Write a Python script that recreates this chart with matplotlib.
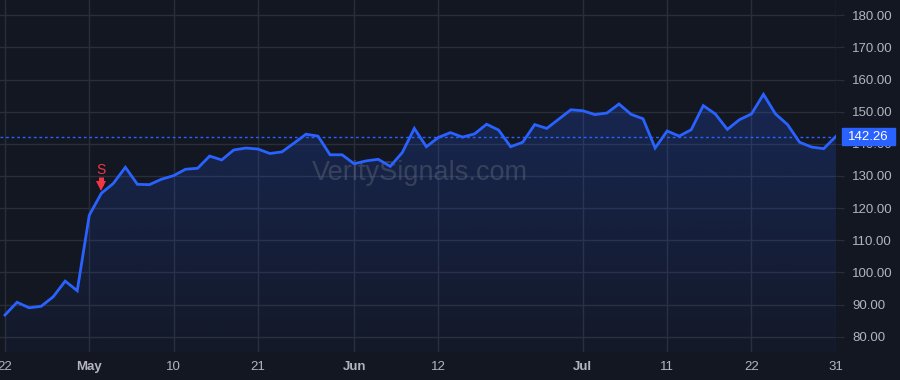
import numpy as np
import pandas as pd
import matplotlib.pyplot as plt
import matplotlib.transforms as mtransforms
from matplotlib.patches import Polygon, Rectangle

# daily closes, 2024-04-22 .. 2024-07-31 (trading days)
closes = [86.75, 90.7, 89.0, 89.45, 92.4, 97.3, 94.3, 117.8, 124.6, 127.7,
          132.7, 127.4, 127.3, 129.0, 130.1, 132.1, 132.4, 136.2, 135.0, 138.1,
          138.7, 138.4, 137.0, 137.5, 140.2, 143.0, 142.4, 136.6, 136.6, 133.8,
          134.7, 135.2, 133.0, 137.3, 144.8, 139.1, 142.0, 143.5, 142.1, 143.1,
          146.1, 144.3, 139.1, 140.5, 146.0, 144.8, 147.7, 150.6, 150.3, 149.1,
          149.6, 152.4, 149.2, 147.8, 138.7, 144.0, 142.4, 144.4, 151.9, 149.3,
          144.5, 147.5, 149.3, 155.4, 149.3, 146.0, 140.5, 139.0, 138.5, 142.26]
holidays = ['2024-05-27', '2024-06-19', '2024-07-04']
tick_dates = ['2024-04-22', '2024-05-01', '2024-05-10', '2024-05-21', '2024-06-03',
              '2024-06-12', '2024-07-01', '2024-07-11', '2024-07-22', '2024-07-31']
tick_labels = ['22', 'May', '10', '21', 'Jun', '12', 'Jul', '11', '22', '31']
month_labels = ['May', 'Jun', 'Jul']
signal_date = '2024-05-02'
signal_text = 'S'
last_price = closes[-1]
y_ticks = [80, 90, 100, 110, 120, 130, 140, 150, 160, 170, 180]

days = pd.bdate_range('2024-04-22', '2024-07-31')
days = days[~days.isin(pd.to_datetime(holidays))]
x = np.arange(len(days))
pos = {d: i for i, d in enumerate(days)}

bg = '#131722'
grid = '#2a2e39'
blue = '#2962ff'
txt = '#b2b5be'
red = '#f23645'

plt.rcParams['font.family'] = ['Liberation Sans', 'DejaVu Sans']

fig = plt.figure(figsize=(9, 3.8), dpi=100, facecolor=bg)
ax = fig.add_axes([0, 28.3 / 380, 835.7 / 900, 351.7 / 380])
ax.set_facecolor(bg)
ax.set_xlim(-0.415, len(x) - 1)
ax.set_ylim(75.33, 184.76)

# gradient area under the line
y0 = ax.get_ylim()[0]
verts = [(x[0], y0)] + list(zip(x, closes)) + [(x[-1], y0)]
poly = Polygon(verts, closed=True, facecolor='none', edgecolor='none')
ax.add_patch(poly)
grad = np.zeros((256, 1, 4))
grad[:, 0, :3] = np.array([41, 98, 255]) / 255
grad[:, 0, 3] = np.linspace(0.22, 0.03, 256)
im = ax.imshow(grad, aspect='auto', extent=[x[0], x[-1], y0, max(closes)],
               origin='upper', zorder=1)
im.set_clip_path(poly)

ax.plot(x, closes, color=blue, lw=2, zorder=3, solid_joinstyle='miter')
ax.axhline(last_price, color=blue, lw=1, ls=(0, (2, 2)), zorder=2)

# grid and axes
ax.set_yticks(y_ticks)
ax.set_yticklabels([f'{v:.2f}' for v in y_ticks])
ax.set_xticks([pos[pd.Timestamp(d)] for d in tick_dates])
ax.set_xticklabels(tick_labels)
for lab in ax.get_xticklabels():
    if lab.get_text() in month_labels:
        lab.set_fontweight('bold')
ax.grid(True, color=grid, lw=1)
ax.set_axisbelow(True)
ax.yaxis.tick_right()
ax.tick_params(axis='y', length=6, color=grid, labelcolor=txt, labelsize=9.5, pad=6)
ax.tick_params(axis='x', length=0, labelcolor=txt, labelsize=9.5, pad=7)
for s in ax.spines.values():
    s.set_visible(False)

# last price tag
tr = mtransforms.blended_transform_factory(ax.transAxes, ax.transData)
h = 17 / 3.214
ax.add_patch(Rectangle((842.3 / 835.7, last_price - h / 2), 52.7 / 835.7, h,
                       transform=tr, color=blue, clip_on=False, zorder=5))
ax.text(868.5 / 835.7, last_price, f'{last_price:.2f}', transform=tr, color='white',
        fontsize=9.5, ha='center', va='center', zorder=6, clip_on=False)

# sell signal: stem + head above the bar
sx = pos[pd.Timestamp(signal_date)]
sy = closes[sx]
stem = mtransforms.offset_copy(ax.transData, fig, x=0, y=12.5, units='dots')
head = mtransforms.offset_copy(ax.transData, fig, x=0, y=7, units='dots')
ax.plot([sx], [sy], marker='|', ms=5.5, mew=3.6, color=red, transform=stem, zorder=6)
ax.plot([sx], [sy], marker='v', ms=7.5, mew=0, color=red, transform=head, zorder=6)
ax.annotate(signal_text, xy=(sx, sy), xytext=(0, 23), textcoords='offset pixels',
            color=red, fontsize=10, ha='center', va='center', zorder=6)

# watermark
ax.text(420 / 835.7, 0.508, 'VeritySignals.com', transform=ax.transAxes,
        color='#787b86', alpha=0.35, fontsize=19.5, ha='center', va='center', zorder=2)

fig.savefig('out.png', dpi=100, facecolor=bg)
